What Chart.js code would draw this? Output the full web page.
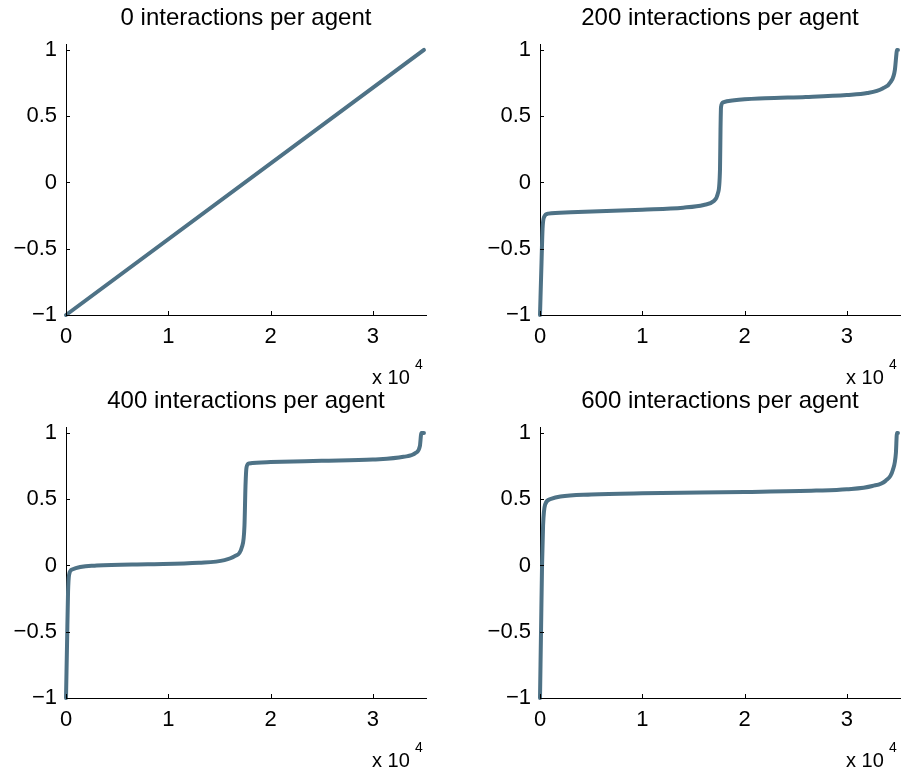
<!DOCTYPE html>
<html>
<head>
<meta charset="utf-8">
<script src="https://cdn.jsdelivr.net/npm/chart.js@4.4.1/dist/chart.umd.min.js"></script>
<style>
  html, body { margin: 0; padding: 0; background: #fff; width: 902px; height: 774px; overflow: hidden; }
  .panel { position: absolute; width: 428px; height: 387px; }
  canvas { display: block; }
</style>
</head>
<body>
<div class="panel" style="left:0;top:0"><canvas id="p0" width="428" height="387"></canvas></div>
<div class="panel" style="left:474px;top:0"><canvas id="p200" width="428" height="387"></canvas></div>
<div class="panel" style="left:0;top:383px"><canvas id="p400" width="428" height="387"></canvas></div>
<div class="panel" style="left:474px;top:383px"><canvas id="p600" width="428" height="387"></canvas></div>
<script>
// Sorted agent opinions after a given number of interactions per agent.
// x = agent rank (0 .. 35000), y = opinion in [-1, 1].
const titles = ['0 interactions per agent', '200 interactions per agent',
                '400 interactions per agent', '600 interactions per agent'];

const rank0 = [0, 35000];
const opinion0 = [-1, 1];

const rank200 = [0, 150, 250, 400, 800, 3000, 10000, 14000, 16000, 17000, 17400, 17600, 17650, 17700, 17900, 19000, 22000, 26000, 30000, 32000, 33500, 34300, 34700, 34850, 34900, 35000];
const opinion200 = [-1, -0.6, -0.35, -0.26, -0.235, -0.225, -0.205, -0.19, -0.17, -0.14, -0.08, 0.1, 0.4, 0.57, 0.605, 0.62, 0.635, 0.645, 0.66, 0.675, 0.71, 0.76, 0.85, 0.97, 1, 1];

const rank400 = [0, 100, 200, 300, 600, 3000, 8000, 13000, 15500, 16500, 17200, 17450, 17550, 17650, 17900, 20000, 25000, 30000, 33000, 34200, 34600, 34750, 35000];
const opinion400 = [-1, -0.6, -0.2, -0.07, -0.03, 0, 0.01, 0.02, 0.04, 0.07, 0.14, 0.3, 0.6, 0.74, 0.77, 0.78, 0.79, 0.8, 0.82, 0.85, 0.9, 1, 1];

const rank600 = [0, 100, 200, 300, 500, 1000, 2000, 5000, 10000, 20000, 27000, 30000, 32500, 33800, 34500, 34800, 34900, 35000];
const opinion600 = [-1, -0.5, 0, 0.3, 0.46, 0.5, 0.52, 0.535, 0.545, 0.555, 0.565, 0.575, 0.6, 0.64, 0.72, 0.85, 1, 1];

const xTickValues = [0, 10000, 20000, 30000];
const xTickLabels = ['0', '1', '2', '3'];
const yTickValues = [-1, -0.5, 0, 0.5, 1];
const yTickLabels = ['\u22121', '\u22120.5', '0', '0.5', '1'];

const FONT = '"Liberation Sans", Arial, Helvetica, sans-serif';
const LINE_COLOR = 'rgb(78,114,134)';

// Inward tick marks, panel title and the x-axis multiplier label.
const decor = {
  id: 'decor',
  afterDraw(chart, args, opts) {
    const { ctx, chartArea: a, scales: { x, y } } = chart;
    ctx.save();
    ctx.strokeStyle = '#000';
    ctx.lineWidth = 1;
    ctx.beginPath();
    for (const v of xTickValues) {
      const px = Math.round(x.getPixelForValue(v)) + 0.5;
      ctx.moveTo(px, a.bottom);
      ctx.lineTo(px, a.bottom - 4);
    }
    for (const v of yTickValues) {
      const py = Math.round(y.getPixelForValue(v)) + 0.5;
      ctx.moveTo(a.left, py);
      ctx.lineTo(a.left + 4, py);
    }
    ctx.stroke();

    ctx.fillStyle = '#000';
    ctx.textAlign = 'center';
    ctx.textBaseline = 'middle';
    ctx.font = '24px ' + FONT;
    ctx.fillText(opts.title, (a.left + a.right) / 2, a.top - 26);

    ctx.textAlign = 'left';
    ctx.font = '20px ' + FONT;
    ctx.fillText('x 10', a.right - 54, a.bottom + 63);
    ctx.font = '14px ' + FONT;
    ctx.fillText('4', a.right - 11, a.bottom + 50);
    ctx.restore();
  }
};

function makePanel(id, title, xs, ys) {
  const points = xs.map((v, i) => ({ x: v, y: ys[i] }));
  new Chart(document.getElementById(id), {
    type: 'scatter',
    data: {
      datasets: [{
        data: points,
        showLine: true,
        borderColor: LINE_COLOR,
        backgroundColor: LINE_COLOR,
        borderWidth: 4,
        borderCapStyle: 'round',
        borderJoinStyle: 'round',
        cubicInterpolationMode: 'monotone',
        pointRadius: 0,
        clip: false
      }]
    },
    options: {
      responsive: false,
      animation: false,
      events: [],
      layout: { padding: { left: 6, top: 44, right: 2, bottom: 32 } },
      plugins: {
        legend: { display: false },
        tooltip: { enabled: false },
        decor: { title: title }
      },
      scales: {
        x: {
          type: 'linear',
          min: 0,
          max: 35200,
          afterBuildTicks: s => { s.ticks = xTickValues.map(v => ({ value: v })); },
          afterFit: s => { s.height = 40; },
          grid: { display: false, drawTicks: false },
          border: { display: true, color: '#000', width: 1 },
          ticks: {
            color: '#000',
            font: { family: FONT, size: 22 },
            padding: 9,
            maxRotation: 0,
            callback: (v, i) => xTickLabels[i]
          }
        },
        y: {
          type: 'linear',
          min: -1,
          max: 1.045,
          afterBuildTicks: s => { s.ticks = yTickValues.map(v => ({ value: v })); },
          afterFit: s => { s.width = 60; },
          grid: { display: false, drawTicks: false },
          border: { display: true, color: '#000', width: 1 },
          ticks: {
            color: '#000',
            font: { family: FONT, size: 22 },
            padding: 9,
            callback: (v, i) => yTickLabels[i]
          }
        }
      }
    },
    plugins: [decor]
  });
}

makePanel('p0', titles[0], rank0, opinion0);
makePanel('p200', titles[1], rank200, opinion200);
makePanel('p400', titles[2], rank400, opinion400);
makePanel('p600', titles[3], rank600, opinion600);
</script>
</body>
</html>
